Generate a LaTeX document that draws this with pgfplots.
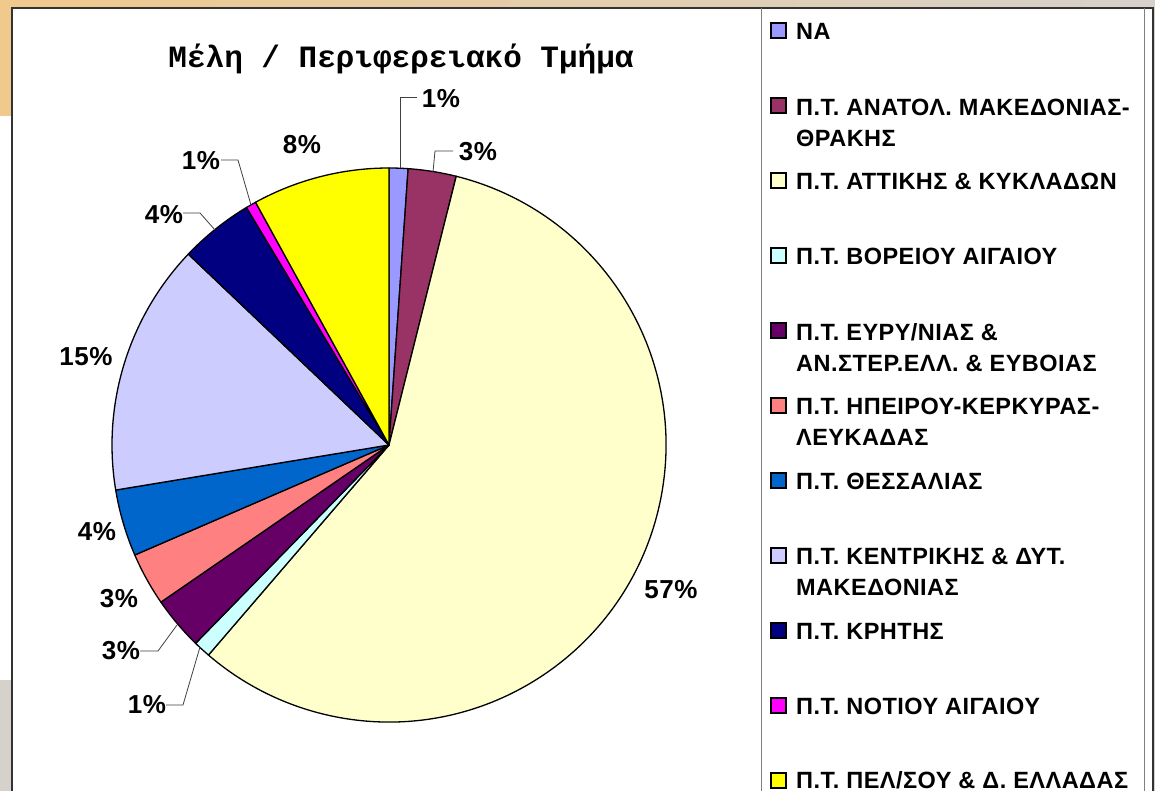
\documentclass[border=0pt]{standalone}
\usepackage{fontspec}
\setmainfont{Liberation Sans}
\newfontfamily\lblfont[LetterSpace=2]{Liberation Sans}
\newfontfamily\titlefont{Liberation Mono}
\usepackage{pgfplots}
\usepackage{pgfplotstable}
\pgfplotsset{compat=1.18}

% Excel-style palette, one colour per slice
\definecolor{c0}{HTML}{9999FF}
\definecolor{c1}{HTML}{993366}
\definecolor{c2}{HTML}{FFFFCC}
\definecolor{c3}{HTML}{CCFFFF}
\definecolor{c4}{HTML}{660066}
\definecolor{c5}{HTML}{FF8080}
\definecolor{c6}{HTML}{0066CC}
\definecolor{c7}{HTML}{CCCCFF}
\definecolor{c8}{HTML}{000080}
\definecolor{c9}{HTML}{FF00FF}
\definecolor{c10}{HTML}{FFFF00}
\definecolor{tanbg}{HTML}{F0C98C}
\definecolor{graybg}{HTML}{D6D1CB}

% share in percent, label position (pixels from top left)
\pgfplotstableread{
idx val  lx  ly
0   1.1  441 99
1   2.8  478 152
2   57.4 671 590
3   1.0  147 705
4   3.1  121 651
5   3.1  119 599
6   3.9  97  532
7   14.7 86  357
8   4.3  164 215
9   0.6  201 161
10  8.0  302 145
}\piedata

\begin{document}
\begin{tikzpicture}
\clip (0,0) rectangle (1155pt,791pt);
\begin{axis}[
  at={(0,0)}, anchor=south west,
  width=1155pt, height=791pt, scale only axis,
  xmin=0, xmax=1155, ymin=0, ymax=791,
  y dir=reverse,
  hide axis, clip=false,
]
\pgfplotsextra{
  % background and frame
  \fill[left color=tanbg, right color=graybg] (axis cs:0,0) rectangle (axis cs:1155,8);
  \fill[tanbg] (axis cs:0,0) rectangle (axis cs:12,116);
  \fill[graybg] (axis cs:0,680) rectangle (axis cs:12,791);
  \fill[graybg] (axis cs:1154,0) rectangle (axis cs:1155,791);
  \fill[white] (axis cs:12,8) rectangle (axis cs:1153,791);
  \draw[black!80, line width=1.6pt] (axis cs:12,791) -- (axis cs:12,8) -- (axis cs:1153,8) -- (axis cs:1153,791);
  \draw[gray, line width=1pt] (axis cs:761,8) -- (axis cs:761,791);
  \draw[gray, line width=1pt] (axis cs:1144,8) -- (axis cs:1144,791);

  % slices, clockwise from the top
  \xdef\cum{0}
  \foreach \i in {0,...,10}{
    \pgfplotstablegetelem{\i}{val}\of\piedata \let\v\pgfplotsretval
    \pgfmathsetmacro\a{90-3.6*\cum}
    \pgfmathsetmacro\b{\a-3.6*\v}
    \path[fill=c\i, draw=black, line width=1.3pt, line join=round]
      (axis cs:389,445) -- ++(\a:277pt) arc[start angle=\a, end angle=\b, radius=277pt] -- cycle;
    \pgfmathsetmacro\newcum{\cum+\v}
    \xdef\cum{\newcum}
  }

  % leader lines
  \begin{scope}[black!75, line width=0.8pt]
    \draw (axis cs:400,168) -- (axis cs:400,97) -- (axis cs:417,97);
    \draw (axis cs:433,172) -- (axis cs:435,151) -- (axis cs:453,151);
    \draw (axis cs:200,647) -- (axis cs:183,705) -- (axis cs:166,705);
    \draw (axis cs:177,625) -- (axis cs:158,651) -- (axis cs:140,651);
    \draw (axis cs:215,230) -- (axis cs:200,213) -- (axis cs:183,213);
    \draw (axis cs:251,205) -- (axis cs:238,160) -- (axis cs:221,160);
  \end{scope}

  % percentage labels
  \foreach \i in {0,...,10}{
    \pgfplotstablegetelem{\i}{val}\of\piedata \let\v\pgfplotsretval
    \pgfplotstablegetelem{\i}{lx}\of\piedata \let\lx\pgfplotsretval
    \pgfplotstablegetelem{\i}{ly}\of\piedata \let\ly\pgfplotsretval
    \node[font=\lblfont\bfseries\fontsize{26}{26}\selectfont, inner sep=0pt]
      at (axis cs:\lx,\ly) {\pgfmathprintnumber[fixed,precision=0,/pgf/number format/assume math mode=true]{\v}\%};
  }

  % legend keys
  \foreach \i in {0,...,10}{
    \pgfmathsetmacro\ky{30.5+75*\i}
    \draw[fill=c\i, line width=1.3pt] (axis cs:771,\ky-7.5) rectangle (axis cs:786,\ky+7.5);
  }
}
% title
\node[font=\titlefont\bfseries\fontsize{31}{31}\selectfont, anchor=base] at (axis cs:401,68) {Μέλη / Περιφερειακό Τμήμα};
% legend text
\begin{scope}[every node/.style={anchor=north west, align=left, inner sep=0pt,
    font=\lblfont\bfseries\fontsize{23.5}{31}\selectfont}]
\node at (axis cs:796,23) {ΝΑ};
\node at (axis cs:796,99) {Π.Τ. ΑΝΑΤΟΛ. ΜΑΚΕΔΟΝΙΑΣ-\\ΘΡΑΚΗΣ};
\node at (axis cs:796,173) {Π.Τ. ΑΤΤΙΚΗΣ \& ΚΥΚΛΑΔΩΝ};
\node at (axis cs:796,248) {Π.Τ. ΒΟΡΕΙΟΥ ΑΙΓΑΙΟΥ};
\node at (axis cs:796,323) {Π.Τ. ΕΥΡΥ/ΝΙΑΣ \&\\ΑΝ.ΣΤΕΡ.ΕΛΛ. \& ΕΥΒΟΙΑΣ};
\node at (axis cs:796,398) {Π.Τ. ΗΠΕΙΡΟΥ-ΚΕΡΚΥΡΑΣ-\\ΛΕΥΚΑΔΑΣ};
\node at (axis cs:796,473) {Π.Τ. ΘΕΣΣΑΛΙΑΣ};
\node at (axis cs:796,548) {Π.Τ. ΚΕΝΤΡΙΚΗΣ \& ΔΥΤ.\\ΜΑΚΕΔΟΝΙΑΣ};
\node at (axis cs:796,623) {Π.Τ. ΚΡΗΤΗΣ};
\node at (axis cs:796,698) {Π.Τ. ΝΟΤΙΟΥ ΑΙΓΑΙΟΥ};
\node at (axis cs:796,771) {Π.Τ. ΠΕΛ/ΣΟΥ \& Δ. ΕΛΛΑΔΑΣ};
\end{scope}
\end{axis}
\end{tikzpicture}
\end{document}
